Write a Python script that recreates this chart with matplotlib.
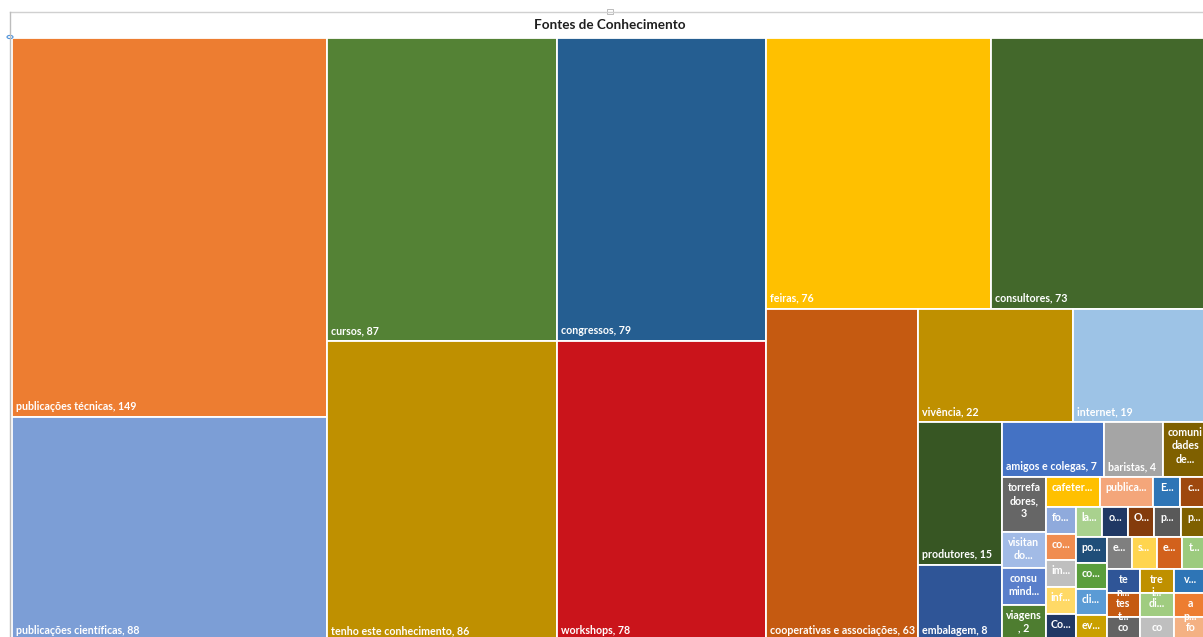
import matplotlib
matplotlib.use("Agg")
import matplotlib.pyplot as plt
from matplotlib.patches import Rectangle, Circle
from matplotlib.lines import Line2D

plt.rcParams["font.family"] = ["Lato", "DejaVu Sans"]

title = "Fontes de Conhecimento"

# Display labels; "{v}" is replaced by the value of the cell
labels = [
    "publicações técnicas, {v}", "publicações científicas, {v}", "cursos, {v}",
    "tenho este conhecimento, {v}", "congressos, {v}", "workshops, {v}",
    "feiras, {v}", "consultores, {v}", "cooperativas e associações, {v}",
    "vivência, {v}", "internet, {v}", "produtores, {v}", "embalagem, {v}",
    "amigos e colegas, {v}", "baristas, {v}", "comuni\ndades\nde...",
    "torrefa\ndores,\n{v}", "visitan\ndo...", "consu\nmind...", "viagens\n, {v}",
    "cafeter...", "publica...", "E...", "c...",
    "fo...", "co...", "im...", "inf...", "Co...",
    "la...", "o...", "O...", "p...", "p...",
    "po...", "co...", "cli...", "ev...",
    "e...", "s...", "e...", "t...",
    "te\nn...", "tes\nt...", "co\nm...", "tre\ni...",
    "v...", "di...", "co\nn...", "a\np...", "fo\nr...",
]

values = [
    149, 88, 87, 86, 79, 78, 76, 73, 63, 22, 19, 15, 8, 7, 4, 3, 3, 2, 2, 2,
    2, 2, 1, 1,
    1, 1, 1, 1, 1,
    1, 1, 1, 1, 1,
    1, 1, 1, 1,
    1, 1, 1, 1,
    1, 1, 1, 1,
    1, 1, 1, 1, 1,
]

colors = [
    "#ED7D31", "#7C9ED6", "#548235", "#BF9000", "#255E91", "#CA141B",
    "#FFC000", "#43682B", "#C55A11", "#BF9000", "#9DC3E6", "#375623",
    "#2F5597", "#4472C4", "#A5A5A5", "#7F6000", "#666666", "#A2BBE6",
    "#5A7FCB", "#4E7D30", "#FFC000", "#F4A67A", "#2E75B6", "#9E480E",
    "#8FAADC", "#F08D50", "#BFBFBF", "#FFD966", "#203864",
    "#A9D18E", "#203864", "#843C0C", "#595959", "#7F6000",
    "#1F4E79", "#5A9E3C", "#5B9BD5", "#C9A000",
    "#7F7F7F", "#FFD54F", "#D2611C", "#9CCB7E",
    "#2F5597", "#C55A11", "#636363", "#BF9000",
    "#2E75B6", "#A0CC80", "#BFBFBF", "#ED7D31", "#F4B183",
]


def squarify(vals, x, y, w, h):
    """Squarified layout: strips along the shorter side of the free area.

    A strip keeps taking cells while its newest cell gets closer to square.
    """
    k = w * h / float(sum(vals))
    rects = []
    i, n = 0, len(vals)
    while i < n:
        vertical = w >= h
        side = h if vertical else w

        def last_ratio(a, b):
            thick = sum(vals[a:b]) * k / side
            length = vals[b - 1] * k / thick
            return max(thick / length, length / thick)

        j = i + 1
        cur = last_ratio(i, j)
        while j < n:
            nxt = last_ratio(i, j + 1)
            if nxt <= cur:
                cur = nxt
                j += 1
            else:
                break
        thick = sum(vals[i:j]) * k / side
        pos = 0.0
        for v in vals[i:j]:
            length = v * k / thick
            if vertical:
                rects.append((x, y + pos, thick, length))
            else:
                rects.append((x + pos, y, length, thick))
            pos += length
        if vertical:
            x += thick
            w -= thick
        else:
            y += thick
            h -= thick
        i = j
    return rects


FW, FH = 1203, 637
fig = plt.figure(figsize=(FW / 100, FH / 100), dpi=100)
fig.patch.set_facecolor("white")

# plot area in pixel units (extends slightly past the canvas)
PL, PT, PW, PH = 12, 38, 1195, 603
ax = fig.add_axes([PL / FW, 1 - (PT + PH) / FH, PW / FW, PH / FH])
ax.set_xlim(0, PW)
ax.set_ylim(PH, 0)
ax.axis("off")

FS = 7.7
for (x, y, w, h), lab, v, c in zip(squarify(values, 0, 0, PW, PH), labels, values, colors):
    cell = Rectangle((x, y), w, h, facecolor=c, edgecolor="white", linewidth=1.3)
    ax.add_patch(cell)
    txt = lab.format(v=v)
    if "\n" in txt or txt.endswith("..."):
        t = ax.text(x + w / 2, y + 5, txt, ha="center", va="top", color="white",
                    fontsize=FS, fontweight="bold", linespacing=1.25,
                    multialignment="center")
    else:
        t = ax.text(x + 4, y + h - 5, txt, ha="left", va="bottom", color="white",
                    fontsize=FS, fontweight="bold")
    t.set_clip_path(cell)

fig.text(610 / FW, 1 - 25 / FH, title, ha="center", va="center",
         fontsize=9.7, fontweight="bold", color="#1F1F1F")

# chart frame lines and selection handles
fig.add_artist(Line2D([10 / FW, 1], [1 - 12 / FH, 1 - 12 / FH], color="#D0D0D0", lw=1))
fig.add_artist(Line2D([10 / FW, 10 / FW], [0, 1 - 12 / FH], color="#BDBDBD", lw=1))
fig.add_artist(Rectangle((607 / FW, 1 - 14 / FH), 6 / FW, 5 / FH, facecolor="white",
                         edgecolor="#B0B0B0", lw=0.6))
fig.add_artist(Circle((10 / FW, 1 - 37 / FH), 3 / FW, facecolor="white",
                      edgecolor="#4A90D9", lw=0.8))

fig.savefig("out.png", dpi=100)
